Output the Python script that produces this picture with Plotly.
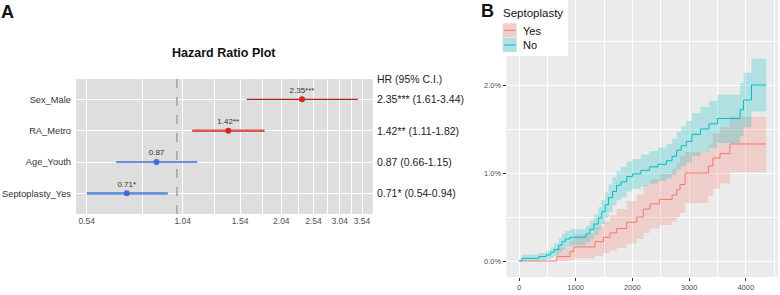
import math
import plotly.graph_objects as go

# ---------------- Panel A data (hazard ratios) ----------------
variables = ["Sex_Male", "RA_Metro", "Age_Youth", "Septoplasty_Yes"]
hr = [2.35, 1.42, 0.87, 0.71]
ci_low = [1.61, 1.11, 0.66, 0.54]
ci_high = [3.44, 1.82, 1.15, 0.94]
stars = ["***", "**", "", "*"]
hr_ticks = [0.54, 1.04, 1.54, 2.04, 2.54, 3.04, 3.54]
hr_minor = [0.79, 1.29, 1.79, 2.29, 2.79, 3.29]

# ---------------- Panel B data (cumulative incidence, %) ----------------
t_no = [0, 50, 350, 480, 560, 620, 700, 760, 820, 900, 1180, 1250, 1320, 1400, 1460,
        1520, 1580, 1650, 1720, 1800, 1900, 2000, 2150, 2300, 2450, 2600, 2700, 2780,
        2860, 2950, 3050, 3200, 3350, 3500, 3900, 3960, 4100, 4360]
est_no = [0, 0.03, 0.05, 0.07, 0.10, 0.13, 0.18, 0.22, 0.25, 0.27, 0.31, 0.36, 0.42, 0.49, 0.56,
          0.64, 0.72, 0.79, 0.86, 0.90, 0.96, 0.99, 1.03, 1.07, 1.10, 1.14, 1.19, 1.26,
          1.31, 1.36, 1.44, 1.50, 1.56, 1.62, 1.72, 1.83, 2.00, 2.00]
lo_no = [0, 0.0, 0.01, 0.02, 0.04, 0.06, 0.10, 0.13, 0.16, 0.18, 0.21, 0.25, 0.30, 0.36, 0.42,
         0.49, 0.56, 0.63, 0.69, 0.73, 0.79, 0.82, 0.85, 0.88, 0.91, 0.94, 0.98, 1.04,
         1.08, 1.12, 1.19, 1.24, 1.29, 1.34, 1.42, 1.52, 1.70, 1.70]
hi_no = [0, 0.07, 0.09, 0.12, 0.16, 0.20, 0.26, 0.31, 0.34, 0.36, 0.40, 0.46, 0.53, 0.61, 0.69,
         0.78, 0.87, 0.95, 1.02, 1.07, 1.13, 1.16, 1.21, 1.25, 1.29, 1.33, 1.39, 1.47,
         1.53, 1.59, 1.68, 1.75, 1.82, 1.89, 2.02, 2.14, 2.30, 2.30]

t_yes = [0, 665, 900, 970, 1340, 1490, 1605, 1723, 1900, 2076, 2193, 2310, 2480, 2700,
         2780, 2840, 2930, 3340, 3420, 3545, 3720, 4360]
est_yes = [0, 0.05, 0.11, 0.16, 0.22, 0.27, 0.32, 0.37, 0.44, 0.50, 0.59, 0.65, 0.70, 0.75,
           0.81, 0.87, 1.00, 1.08, 1.17, 1.22, 1.33, 1.33]
lo_yes = [0, 0.0, 0.01, 0.03, 0.06, 0.09, 0.12, 0.15, 0.20, 0.25, 0.32, 0.37, 0.41, 0.45,
          0.50, 0.55, 0.66, 0.74, 0.82, 0.88, 1.01, 1.01]
hi_yes = [0, 0.15, 0.22, 0.30, 0.38, 0.45, 0.52, 0.59, 0.68, 0.76, 0.86, 0.93, 0.99, 1.05,
          1.12, 1.19, 1.24, 1.32, 1.45, 1.52, 1.64, 1.64]
km_xticks = [0, 1000, 2000, 3000, 4000]
km_yticks = [0, 1, 2]

W, H = 780, 295
FONT = "Liberation Sans, Arial, sans-serif"

def px_x(p):
    return p / W

def px_y(p):
    return (H - p) / H

fig = go.Figure()

# ---------------- Panel A ----------------
line_colors = ["#B22222", "#D9534F", "#3D6FD8", "#6B93DD"]
line_widths = [1.4, 2.6, 1.4, 2.6]
pt_colors = ["#D62728", "#D62728", "#3D6FD8", "#3D6FD8"]
for i, v in enumerate(variables):
    fig.add_trace(go.Scatter(x=[ci_low[i], ci_high[i]], y=[v, v], mode="lines",
                             line=dict(color=line_colors[i], width=line_widths[i]),
                             xaxis="x", yaxis="y", showlegend=False, hoverinfo="skip"))
fig.add_trace(go.Scatter(x=hr, y=variables, mode="markers+text",
                         marker=dict(color=pt_colors, size=6),
                         text=[f"{h:.2f}{s}" for h, s in zip(hr, stars)],
                         textposition="top center",
                         textfont=dict(size=8, color="#333333", family=FONT),
                         xaxis="x", yaxis="y", showlegend=False))

# ---------------- Panel B ----------------
c_yes, c_no = "#F8766D", "#00BFC4"
f_yes, f_no = "rgba(248,118,109,0.25)", "rgba(0,191,196,0.25)"
for t, lo, hi, fc in [(t_yes, lo_yes, hi_yes, f_yes), (t_no, lo_no, hi_no, f_no)]:
    fig.add_trace(go.Scatter(x=t, y=lo, mode="lines", line=dict(width=0, shape="hv"),
                             xaxis="x2", yaxis="y2", showlegend=False, hoverinfo="skip"))
    fig.add_trace(go.Scatter(x=t, y=hi, mode="lines", line=dict(width=0, shape="hv"),
                             fill="tonexty", fillcolor=fc,
                             xaxis="x2", yaxis="y2", showlegend=False, hoverinfo="skip"))
for t, e, c in [(t_yes, est_yes, c_yes), (t_no, est_no, c_no)]:
    fig.add_trace(go.Scatter(x=t, y=e, mode="lines", line=dict(color=c, width=1, shape="hv"),
                             xaxis="x2", yaxis="y2", showlegend=False))

shapes = []
annotations = []

def note(text, x, y, size, color="#111111", xanchor="left", yref="paper", xref="paper"):
    annotations.append(dict(text=text, x=x, y=y, xref=xref, yref=yref, xanchor=xanchor,
                            yanchor="middle", showarrow=False, borderpad=0,
                            font=dict(size=size, color=color, family=FONT)))

# reference dashed line at HR=1
shapes.append(dict(type="line", xref="x", yref="y domain", x0=1, x1=1, y0=0, y1=1,
                   line=dict(color="#A6A6A6", width=1.6, dash="dash"), layer="above"))

# title and HR column
note("<b>Hazard Ratio Plot</b>", (76 + 372.7) / 2 / W, px_y(53), 12.5, xanchor="center")
note("HR (95% C.I.)", px_x(375.5), px_y(79), 10.5, color="#222222")
for i, v in enumerate(variables):
    note(f"{hr[i]:.2f}{stars[i]} ({ci_low[i]:.2f}-{ci_high[i]:.2f})", px_x(375.5), v, 10.5,
         color="#222222", yref="y")

# panel letters
note("<b>A</b>", px_x(0), px_y(12), 18)
note("<b>B</b>", px_x(480), px_y(11), 18)

# manual legend for panel B
shapes.append(dict(type="rect", xref="paper", yref="paper", x0=px_x(500.5), x1=px_x(568),
                   y0=px_y(56), y1=px_y(0), fillcolor="white", line=dict(width=0), layer="above"))
for (top, bot, fill, lc) in [(23.3, 37.5, "#EECECC", c_yes), (38.0, 52.0, "#B0E0E1", c_no)]:
    shapes.append(dict(type="rect", xref="paper", yref="paper", x0=px_x(502.7), x1=px_x(516.7),
                       y0=px_y(bot), y1=px_y(top), fillcolor=fill, line=dict(width=0), layer="above"))
    mid = (top + bot) / 2
    shapes.append(dict(type="line", xref="paper", yref="paper", x0=px_x(504), x1=px_x(515.5),
                       y0=px_y(mid), y1=px_y(mid), line=dict(color=lc, width=1), layer="above"))
note("Septoplasty", px_x(501.5), px_y(13), 11.5)
note("Yes", px_x(521.5), px_y(31), 11)
note("No", px_x(521.5), px_y(45), 11)

fig.update_layout(
    width=W, height=H,
    margin=dict(l=0, r=0, t=0, b=0),
    paper_bgcolor="white",
    plot_bgcolor="#DEDEDE",
    font=dict(family=FONT),
    shapes=shapes,
    annotations=annotations,
    xaxis=dict(domain=[px_x(76), px_x(372.7)], type="log", automargin=False,
               range=[-0.2993, 0.5807], tickvals=hr_ticks, ticktext=[f"{v:.2f}" for v in hr_ticks],
               showgrid=True, gridcolor="white", gridwidth=1.2, zeroline=False, ticks="",
               tickfont=dict(size=8.5, color="#4D4D4D"),
               minor=dict(tickvals=hr_minor, showgrid=True, gridcolor="white", gridwidth=0.6, ticks=""),
               showline=False),
    yaxis=dict(domain=[px_y(214), px_y(79)], type="category", categoryorder="array",
               categoryarray=variables, range=[3.66, -0.65], showgrid=True, gridcolor="white",
               gridwidth=1.2, ticks="", tickfont=dict(size=9.3, color="#333333"),
               zeroline=False, ticklabelstandoff=4, automargin=False),
    xaxis2=dict(domain=[px_x(506.7), px_x(777.7)], anchor="y2", range=[-217, 4563],
                automargin=False,
                tickvals=km_xticks, ticktext=[str(v) for v in km_xticks],
                showgrid=True, gridcolor="white", gridwidth=1, zeroline=False,
                ticks="outside", ticklen=3, tickcolor="#333333", tickwidth=1,
                tickfont=dict(size=7.5, color="#4D4D4D"),
                minor=dict(dtick=500, tick0=500, showgrid=True, gridcolor="white", gridwidth=0.5, ticks="")),
    yaxis2=dict(domain=[px_y(276.7), 1], anchor="x2", range=[-0.178, 2.966],
                automargin=False,
                tickvals=km_yticks, ticktext=[f"{v:.1f}%" for v in km_yticks],
                showgrid=True, gridcolor="white", gridwidth=1, zeroline=False,
                ticks="outside", ticklen=3, tickcolor="#333333", tickwidth=1,
                tickfont=dict(size=7.5, color="#4D4D4D"),
                minor=dict(dtick=0.5, tick0=0.5, showgrid=True, gridcolor="white", gridwidth=0.5, ticks="")),
)

# panel B background (different shade from panel A)
fig.add_shape(type="rect", xref="x2 domain", yref="y2 domain", x0=0, x1=1, y0=0, y1=1,
              fillcolor="#EBEBEB", line=dict(width=0), layer="below")

fig.write_html("out.html", config={"displayModeBar": False},
               post_script="document.body.style.margin='0';document.body.style.overflow='hidden';")
